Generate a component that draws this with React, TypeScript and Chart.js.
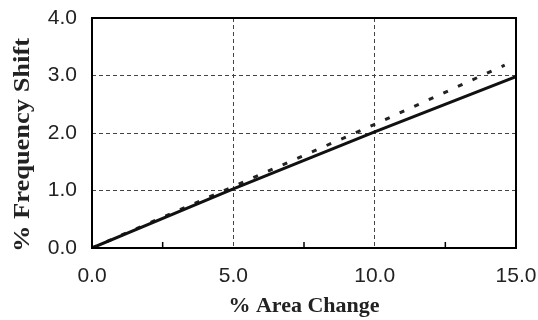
import React, { useEffect, useRef } from "react";
import { Chart, registerables } from "chart.js";

Chart.register(...registerables);

const xTicks = [0, 5, 10, 15];
const yTicks = [0, 1, 2, 3, 4];
const minorXTicks = [2.5, 7.5, 12.5];
const solidX = [0, 5, 10, 15];
const solidY = [0, 1.03, 2.02, 2.98];
const dottedX = [0, 5, 10, 14.6];
const dottedY = [0, 1.07, 2.15, 3.18];
const yTitle = "% Frequency Shift";

const frame = {
  id: "frame",
  afterDatasetsDraw(chart: any) {
    const { ctx, chartArea: a, scales } = chart;
    ctx.save();
    ctx.strokeStyle = "#000";
    ctx.setLineDash([]);
    ctx.lineWidth = 1.5;
    const x = scales.x;
    for (const v of minorXTicks) {
      const px = x.getPixelForValue(v);
      ctx.beginPath();
      ctx.moveTo(px, a.bottom);
      ctx.lineTo(px, a.bottom - 6);
      ctx.stroke();
    }
    ctx.lineWidth = 2;
    ctx.strokeRect(a.left, a.top, a.right - a.left, a.bottom - a.top);
    // y axis title
    ctx.translate(23, (a.top + a.bottom) / 2 + 12);
    ctx.rotate(-Math.PI / 2);
    ctx.scale(1.15, 1);
    ctx.font = "bold 23px 'Liberation Serif'";
    ctx.fillStyle = "#222";
    ctx.textAlign = "center";
    ctx.textBaseline = "middle";
    ctx.fillText(yTitle, 0, 0);
    ctx.restore();
  },
};

export default function App() {
  const ref = useRef<HTMLCanvasElement>(null);
  useEffect(() => {
    const chart = new Chart(ref.current!, {
      type: "scatter",
      data: {
        datasets: [
          {
            data: solidX.map((x, i) => ({ x, y: solidY[i] })),
            showLine: true,
            borderColor: "#111",
            borderWidth: 3,
            pointRadius: 0,
          },
          {
            data: dottedX.map((x, i) => ({ x, y: dottedY[i] })),
            showLine: true,
            borderColor: "#222",
            borderWidth: 3,
            borderDash: [5, 11],
            pointRadius: 0,
          },
        ],
      },
      options: {
        animation: false,
        responsive: false,
        devicePixelRatio: 1,
        layout: { padding: { top: 18, right: 22, left: 0, bottom: 0 } },
        plugins: { legend: { display: false }, tooltip: { enabled: false } },
        scales: {
          x: {
            type: "linear",
            min: 0,
            max: 15,
            afterBuildTicks: (s: any) => {
              s.ticks = xTicks.map((v) => ({ value: v }));
            },
            afterFit: (s: any) => {
              s.height = 72;
              s.paddingLeft = 0;
              s.paddingRight = 0;
            },
            ticks: {
              color: "#222",
              font: { family: "Liberation Sans", size: 21 },
              padding: 16,
              callback: (v: any) => Number(v).toFixed(1),
              maxRotation: 0,
            },
            grid: { color: "#444", lineWidth: 1, drawTicks: false },
            border: { display: false, dash: [4, 3] },
            title: {
              display: true,
              text: "% Area Change",
              color: "#222",
              font: { family: "Liberation Serif", size: 22, weight: "bold" },
              padding: { top: 0, bottom: 0 },
            },
          },
          y: {
            type: "linear",
            min: 0,
            max: 4,
            afterBuildTicks: (s: any) => {
              s.ticks = yTicks.map((v) => ({ value: v }));
            },
            afterFit: (s: any) => {
              s.width = 92;
              s.paddingTop = 0;
              s.paddingBottom = 0;
            },
            ticks: {
              color: "#222",
              font: { family: "Liberation Sans", size: 21 },
              padding: 15,
              callback: (v: any) => Number(v).toFixed(1),
            },
            grid: { color: "#444", lineWidth: 1, drawTicks: false },
            border: { display: false, dash: [4, 3] },
            title: { display: false },
          },
        },
      },
      plugins: [frame],
    } as any);
    return () => chart.destroy();
  }, []);
  return (
    <div style={{ position: "fixed", left: 0, top: 0, width: 538, height: 320, background: "#fff" }}>
      <canvas ref={ref} width={538} height={320} />
    </div>
  );
}
